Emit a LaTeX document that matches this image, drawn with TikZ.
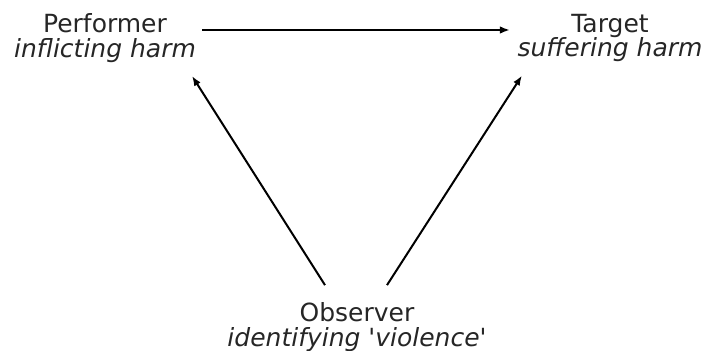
\documentclass[tikz,border=0pt]{standalone}
\usepackage{fontspec}
\setmainfont{DejaVu Sans}[Ligatures=TeXOff]
\usetikzlibrary{arrows.meta}
\begin{document}
\begin{tikzpicture}[x=1pt,y=1pt,every node/.style={font=\fontsize{25}{24.5}\selectfont,align=center,text=black!85},
  arr/.style={line width=2pt,-{Latex[length=10pt,width=7.5pt]}}]
\useasboundingbox (0,0) rectangle (705,351);
\node (perf) at (105,313) {Performer\\\textit{inflicting harm}};
\node (tgt) at (610,313) {Target\\\textit{suffering harm}};
\node (obs) at (357,24) {Observer\\\textit{identifying 'violence'}};
% arrows between roles
\draw[arr] ([yshift=8pt,xshift=3pt]perf.east) -- ([yshift=8pt,xshift=-4pt]tgt.west);
\draw[arr] ([shift={(-32pt,14pt)}]obs.north) -- ([shift={(87pt,-10pt)}]perf.south);
\draw[arr] ([shift={(30pt,14pt)}]obs.north) -- ([shift={(-88pt,-10pt)}]tgt.south);
\end{tikzpicture}
\end{document}
